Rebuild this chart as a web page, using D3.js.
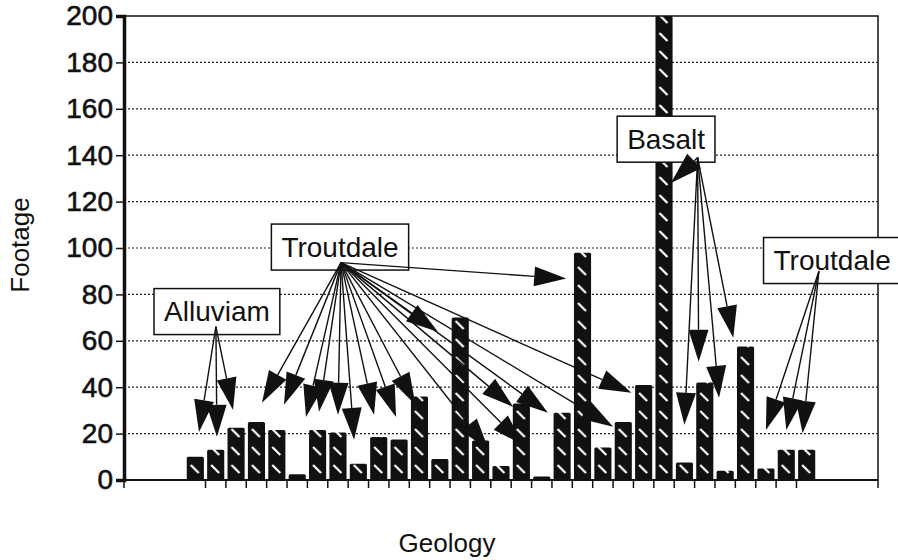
<!DOCTYPE html>
<html>
<head>
<meta charset="utf-8">
<script src="https://cdn.jsdelivr.net/npm/d3@7"></script>
<style>
body { margin: 0; background: #fff; }
svg text { font-family: Arial, "Liberation Sans", Helvetica, sans-serif; fill: #111; }
</style>
</head>
<body>
<div id="chart"></div>
<script>
// one bin per geology interval, first and last three bins are empty
var categories = d3.range(1, 38);
var footage = [null, null, null,
    10, 13, 22.5, 25, 21.5, 2.5, 21.5, 20.5, 7,
    18.5, 17.5, 36, 9, 70, 17, 6, 33, 1.5, 29,
    98, 14, 25, 41, 200, 7.5, 42, 4, 57.5, 5, 13, 13,
    null, null, null];
var yTicks = [0, 20, 40, 60, 80, 100, 120, 140, 160, 180, 200];

// callouts: box centre and arrow start/ends in (bin position, footage) units
var calloutText = ["Alluviam", "Troutdale", "Basalt", "Troutdale"];
var calloutAt = [[4.56, 72.6], [10.6, 100.4], [26.6, 146.9], [34.75, 94.6]];
var calloutFrom = [[4.51, 66.1], [10.65, 93.7], [28.15, 139], [34.1, 90]];
var calloutTo = [
    [[3.68, 20.7], [4.56, 18.6], [5.35, 30.2]],
    [[6.77, 33.3], [7.85, 32.4], [8.93, 27.2], [9.57, 29.4], [10.5, 28.1], [11.29, 17.3],
     [12.27, 28.1], [13.35, 27.2], [14.3, 32.4], [15.4, 63.9], [17.9, 13], [19.1, 31.5],
     [19.6, 15], [20.8, 29], [24.0, 23], [24.9, 37.6], [21.7, 86.8]],
    [[26.84, 128], [27.5, 23.8], [28.2, 51], [29.2, 35.4], [29.9, 61.3]],
    [[31.5, 21.6], [32.5, 21.6], [33.3, 20.2]]
];

var width = 898, height = 560;
var plotLeft = 124, plotRight = 878, plotTop = 16, plotBottom = 480;

var svg = d3.select("#chart").append("svg")
    .attr("width", width)
    .attr("height", height);

var x = d3.scaleBand()
    .domain(d3.range(categories.length))
    .range([plotLeft, plotRight])
    .paddingInner(0.16)
    .paddingOuter(0.08);
var y = d3.scaleLinear()
    .domain([0, 200])
    .range([plotBottom, plotTop]);

// continuous position along the bins (bin i spans i..i+1)
function px(p) { return plotLeft + p * x.step(); }

// bar fill: black with short white diagonal dashes
var pat = svg.append("defs").append("pattern")
    .attr("id", "hatch")
    .attr("patternUnits", "userSpaceOnUse")
    .attr("x", x(0))
    .attr("y", plotBottom)
    .attr("width", x.step())
    .attr("height", 18);
pat.append("rect")
    .attr("width", x.step())
    .attr("height", 18)
    .attr("fill", "#111");
pat.append("line")
    .attr("x1", 4).attr("y1", 3)
    .attr("x2", 12).attr("y2", 11)
    .attr("stroke", "#fff")
    .attr("stroke-width", 2.2);

// dotted gridlines
svg.append("g")
    .selectAll("line")
    .data(yTicks.filter(function (d) { return d > 0 && d < 200; }))
    .enter()
    .append("line")
    .attr("x1", plotLeft).attr("x2", plotRight)
    .attr("y1", function (d) { return y(d); })
    .attr("y2", function (d) { return y(d); })
    .attr("stroke", "#222")
    .attr("stroke-width", 1.2)
    .attr("stroke-dasharray", "2,2");

// bars
svg.append("g")
    .selectAll("rect")
    .data(footage.map(function (v, i) { return { i: i, v: v }; })
        .filter(function (d) { return d.v != null; }))
    .enter()
    .append("rect")
    .attr("x", function (d) { return x(d.i); })
    .attr("y", function (d) { return y(d.v); })
    .attr("width", x.bandwidth())
    .attr("height", function (d) { return plotBottom - y(d.v); })
    .attr("rx", 1.5)
    .attr("fill", "url(#hatch)");

// plot frame
svg.append("rect")
    .attr("x", plotLeft).attr("y", plotTop)
    .attr("width", plotRight - plotLeft)
    .attr("height", plotBottom - plotTop)
    .attr("fill", "none")
    .attr("stroke", "#111")
    .attr("stroke-width", 1.5);

// y axis
var yAxis = svg.append("g")
    .attr("transform", "translate(" + plotLeft + ",0)")
    .call(d3.axisLeft(y).tickValues(yTicks).tickSize(8).tickPadding(3));
yAxis.select(".domain").attr("stroke", "#111").attr("stroke-width", 3.5);
yAxis.selectAll(".tick line").attr("stroke", "#111").attr("stroke-width", 1.5);
yAxis.selectAll(".tick text")
    .style("font-family", "Arial, 'Liberation Sans', Helvetica, sans-serif")
    .style("font-size", "28px")
    .attr("fill", "#111")
    .attr("stroke", "#111")
    .attr("stroke-width", 0.6);

// x axis ticks at bin boundaries that sit between bars
var filled = footage.map(function (v) { return v != null; });
var bounds = d3.range(categories.length + 1).filter(function (k) {
    return k == 0 || k == categories.length || (filled[k - 1] && filled[k]);
});
svg.append("g")
    .selectAll("line")
    .data(bounds)
    .enter()
    .append("line")
    .attr("x1", function (k) { return px(k); })
    .attr("x2", function (k) { return px(k); })
    .attr("y1", plotBottom)
    .attr("y2", plotBottom + 8)
    .attr("stroke", "#111")
    .attr("stroke-width", 1.5);
svg.append("line")
    .attr("x1", plotLeft).attr("x2", plotRight)
    .attr("y1", plotBottom).attr("y2", plotBottom)
    .attr("stroke", "#111")
    .attr("stroke-width", 2);

// axis titles
svg.append("text")
    .attr("x", 447)
    .attr("y", 552)
    .attr("text-anchor", "middle")
    .style("font-size", "26px")
    .text("Geology");
svg.append("text")
    .attr("transform", "translate(29,245) rotate(-90)")
    .attr("text-anchor", "middle")
    .style("font-size", "26px")
    .text("Footage");

// callout boxes
var boxes = svg.append("g");
calloutText.forEach(function (t, i) {
    var cx = px(calloutAt[i][0]), cy = y(calloutAt[i][1]);
    var g = boxes.append("g");
    var txt = g.append("text")
        .attr("x", cx)
        .attr("y", cy)
        .attr("dy", "0.35em")
        .attr("text-anchor", "middle")
        .style("font-size", "28px")
        .text(t);
    var w = txt.node().getComputedTextLength() + 20;
    g.insert("rect", "text")
        .attr("x", cx - w / 2)
        .attr("y", cy - 23)
        .attr("width", w)
        .attr("height", 46)
        .attr("fill", "#fff")
        .attr("stroke", "#111")
        .attr("stroke-width", 1.5);
});

// arrows: thin shaft, big solid head
function arrow(g, x0, y0, x1, y1) {
    var dx = x1 - x0, dy = y1 - y0;
    var len = Math.sqrt(dx * dx + dy * dy);
    var ux = dx / len, uy = dy / len;
    var hl = 32, hw = 10;
    var bx = x1 - ux * hl, by = y1 - uy * hl;
    g.append("line")
        .attr("x1", x0).attr("y1", y0)
        .attr("x2", bx).attr("y2", by)
        .attr("stroke", "#111")
        .attr("stroke-width", 1.4);
    g.append("polygon")
        .attr("points", [[x1, y1], [bx - uy * hw, by + ux * hw], [bx + uy * hw, by - ux * hw]].join(" "))
        .attr("fill", "#111");
}
var arrows = svg.append("g");
calloutTo.forEach(function (list, i) {
    var x0 = px(calloutFrom[i][0]), y0 = y(calloutFrom[i][1]);
    list.forEach(function (t) {
        arrow(arrows, x0, y0, px(t[0]), y(t[1]));
    });
});
</script>
</body>
</html>
